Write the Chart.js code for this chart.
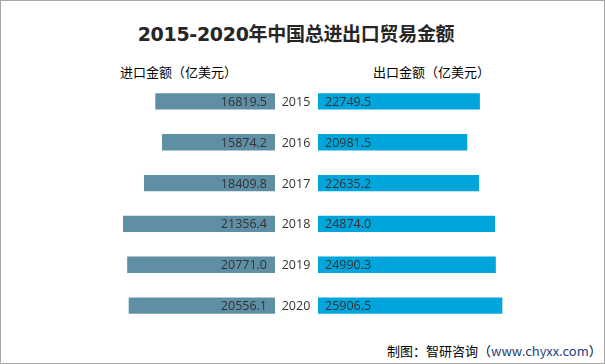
<!DOCTYPE html>
<html>
<head>
<meta charset="utf-8">
<script src="https://cdn.jsdelivr.net/npm/chart.js@4/dist/chart.umd.min.js"></script>
<style>
  body { margin: 0; background: #fff; }
  #wrap { position: relative; width: 605px; height: 364px; box-sizing: border-box; border: 1px solid #a6a6a6; font-family: "Noto Sans CJK SC", sans-serif; overflow: hidden; }
  .txt { position: absolute; white-space: nowrap; color: #000; }
  #title { left: 0; width: 590px; top: 18px; text-align: center; font-size: 19px; font-weight: bold; color: #262626; font-family: "DejaVu Sans", "Noto Sans CJK SC", sans-serif; letter-spacing: -0.3px; }
  #subL { left: 119px; top: 61px; font-size: 13px; }
  #subR { left: 372px; top: 61px; font-size: 13px; }
  #foot { left: 386px; top: 340px; font-size: 13px; }
  #foot span { color: #1f3f7a; }
  #left { position: absolute; left: 0; top: 80px; width: 317px; height: 245px; }
  #right { position: absolute; left: 317px; top: 80px; width: 280px; height: 245px; }
</style>
</head>
<body>
<div id="wrap">
  <div id="title" class="txt">2015-2020年中国总进出口贸易金额</div>
  <div id="subL" class="txt">进口金额（亿美元）</div>
  <div id="subR" class="txt">出口金额（亿美元）</div>
  <div id="foot" class="txt">制图：智研咨询（<span>www.chyxx.com</span>）</div>
  <div id="left"><canvas id="importChart"></canvas></div>
  <div id="right"><canvas id="exportChart"></canvas></div>
</div>
<script>
const years = ['2015', '2016', '2017', '2018', '2019', '2020'];
const importValues = [16819.5, 15874.2, 18409.8, 21356.4, 20771.0, 20556.1];
const exportValues = [22749.5, 20981.5, 22635.2, 24874.0, 24990.3, 25906.5];

// draws value labels on the bars (no datalabels plugin available)
const valueLabels = {
    id: 'valueLabels',
    afterDatasetsDraw(chart, args, opts) {
        const ctx = chart.ctx;
        const meta = chart.getDatasetMeta(0);
        ctx.save();
        ctx.font = '12.5px "Open Sans", sans-serif';
        ctx.fillStyle = '#333333';
        ctx.textBaseline = 'middle';
        meta.data.forEach((bar, i) => {
            const v = chart.data.datasets[0].data[i].toFixed(1);
            if (opts.side === 'left') {
                ctx.textAlign = 'right';
                ctx.fillText(v, bar.base - 8, bar.y + 1);
            } else {
                ctx.textAlign = 'left';
                ctx.fillText(v, bar.base + 7, bar.y + 1);
            }
            if (opts.years) {
                ctx.textAlign = 'center';
                ctx.fillText(chart.data.labels[i], bar.base + 21, bar.y + 1);
            }
        });
        ctx.restore();
    }
};

function makeChart(id, values, color, side, max) {
    return new Chart(document.getElementById(id).getContext('2d'), {
        type: 'bar',
        data: {
            labels: years,
            datasets: [{
                data: values,
                backgroundColor: color,
                categoryPercentage: 1,
                barPercentage: 0.4
            }]
        },
        options: {
            indexAxis: 'y',
            responsive: true,
            maintainAspectRatio: false,
            animation: false,
            layout: { padding: { right: side === 'left' ? 43 : 0 } },
            plugins: {
                legend: { display: false },
                tooltip: { enabled: false },
                valueLabels: { side: side, years: side === 'left' }
            },
            scales: {
                x: { display: false, min: 0, max: max, reverse: side === 'left' },
                y: { display: false }
            }
        },
        plugins: [valueLabels]
    });
}

// both chart areas use ~0.00712 px per unit
makeChart('importChart', importValues, '#5e8fa5', 'left', 38500);
makeChart('exportChart', exportValues, '#00a5dc', 'right', 39350);
</script>
</body>
</html>
